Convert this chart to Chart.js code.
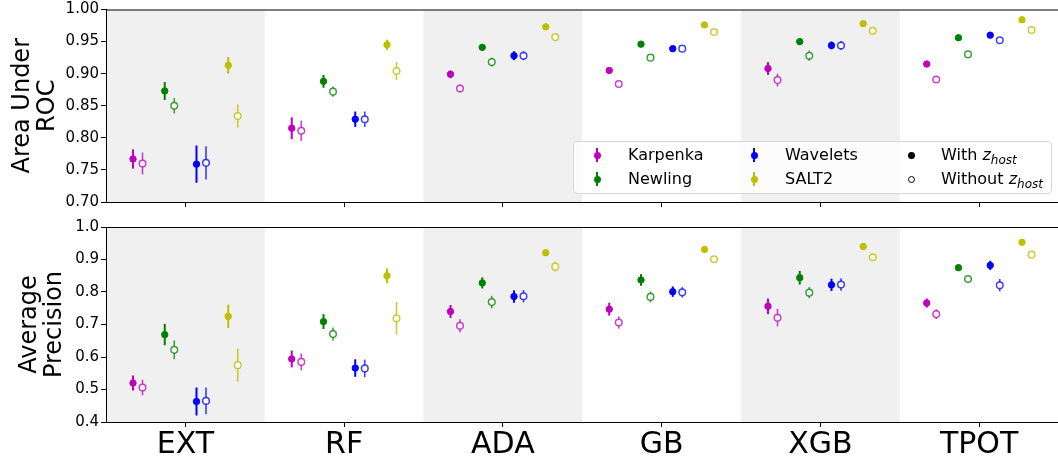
<!DOCTYPE html>
<html><head><meta charset="utf-8">
<script src="https://cdn.jsdelivr.net/npm/chart.js@4.4.1/dist/chart.umd.min.js"></script>
<style>
html,body{margin:0;padding:0;width:1058px;height:461px;overflow:hidden;background:#fff;font-family:"DejaVu Sans",sans-serif;}
#wrap{position:relative;width:1058px;height:461px;overflow:hidden;}
canvas{position:absolute;left:0;}
#c1{top:0}
#c2{top:215px}
#legend{position:absolute;left:573px;top:141px;width:477px;height:51px;border:1px solid #d6d6d6;border-radius:4px;background:rgba(255,255,255,0.8);}
.lt{position:absolute;font-size:16px;line-height:20px;color:#000;white-space:nowrap;}
.lbar{position:absolute;width:2px;height:14px;}
.ldot{position:absolute;width:7px;height:7px;border-radius:50%;box-sizing:border-box;}
</style>
</head><body>
<div id="wrap">
<canvas id="c1" width="1064" height="215"></canvas>
<canvas id="c2" width="1064" height="246"></canvas>
<div id="legend"></div>
</div>
<script>
// ---------- data ----------
const categories = ['EXT','RF','ADA','GB','XGB','TPOT'];
const methods = ['Karpenka','Newling','Wavelets','SALT2'];
const aucTicks = [0.70,0.75,0.80,0.85,0.90,0.95,1.00];
const apTicks = [0.4,0.5,0.6,0.7,0.8,0.9,1.0];

// Area under ROC
const aucKarpenka      = [0.767,0.815,0.899,0.905,0.908,0.915];
const aucKarpenkaErr   = [0.015,0.017,0.006,0.004,0.010,0.004];
const aucKarpenkaNoZ   = [0.760,0.811,0.877,0.884,0.890,0.891];
const aucKarpenkaNoZErr= [0.017,0.016,0.006,0.004,0.010,0.003];
const aucNewling       = [0.873,0.888,0.941,0.946,0.950,0.956];
const aucNewlingErr    = [0.014,0.010,0.003,0.003,0.004,0.003];
const aucNewlingNoZ    = [0.850,0.872,0.918,0.925,0.928,0.930];
const aucNewlingNoZErr = [0.012,0.008,0.007,0.003,0.008,0.003];
const aucWavelets      = [0.759,0.829,0.928,0.939,0.944,0.960];
const aucWaveletsErr   = [0.029,0.012,0.007,0.003,0.006,0.003];
const aucWaveletsNoZ   = [0.761,0.829,0.928,0.939,0.944,0.952];
const aucWaveletsNoZErr= [0.026,0.012,0.007,0.003,0.007,0.003];
const aucSALT2         = [0.913,0.945,0.973,0.976,0.978,0.984];
const aucSALT2Err      = [0.013,0.008,0.003,0.003,0.003,0.003];
const aucSALT2NoZ      = [0.834,0.904,0.957,0.965,0.967,0.968];
const aucSALT2NoZErr   = [0.018,0.014,0.003,0.003,0.003,0.003];

// Average precision
const apKarpenka       = [0.520,0.594,0.740,0.747,0.756,0.766];
const apKarpenkaErr    = [0.023,0.026,0.020,0.020,0.024,0.014];
const apKarpenkaNoZ    = [0.506,0.585,0.696,0.706,0.721,0.732];
const apKarpenkaNoZErr = [0.024,0.026,0.020,0.019,0.027,0.015];
const apNewling        = [0.669,0.709,0.828,0.837,0.844,0.875];
const apNewlingErr     = [0.033,0.023,0.017,0.018,0.021,0.008];
const apNewlingNoZ     = [0.622,0.671,0.769,0.785,0.798,0.840];
const apNewlingNoZErr  = [0.029,0.020,0.019,0.017,0.017,0.010];
const apWavelets       = [0.463,0.566,0.786,0.801,0.822,0.882];
const apWaveletsErr    = [0.043,0.027,0.019,0.016,0.019,0.014];
const apWaveletsNoZ    = [0.465,0.565,0.787,0.799,0.823,0.821];
const apWaveletsNoZErr = [0.041,0.027,0.019,0.016,0.019,0.019];
const apSALT2          = [0.725,0.850,0.921,0.931,0.940,0.953];
const apSALT2Err       = [0.036,0.023,0.008,0.005,0.005,0.004];
const apSALT2NoZ       = [0.575,0.719,0.878,0.901,0.907,0.915];
const apSALT2NoZErr    = [0.051,0.050,0.015,0.005,0.005,0.004];

// ---------- styles ----------
const colors = ['#bf00bf','#008000','#0000ff','#bfbf00'];
const lightColors = ['rgba(191,0,191,0.75)','rgba(0,128,0,0.75)','rgba(0,0,255,0.75)','rgba(191,191,0,0.8)'];
const FONT = 'DejaVu Sans';

function buildDatasets(series){
  const ds = [];
  series.forEach((s, m) => {
    const center = -0.3 + 0.2*m;
    ds.push({
      label: methods[m] + ' with',
      data: s[0].map((v,i)=>({x:i+center-0.03, y:v})),
      errors: s[1], errWidth: 2,
      pointRadius: 3.2, pointBorderWidth: 1,
      pointBackgroundColor: colors[m], pointBorderColor: colors[m], borderColor: colors[m],
      showLine:false
    });
    ds.push({
      label: methods[m] + ' without',
      data: s[2].map((v,i)=>({x:i+center+0.03, y:v})),
      errors: s[3], errWidth: 1.6,
      pointRadius: 3.3, pointBorderWidth: 1.5,
      pointBackgroundColor: '#ffffff', pointBorderColor: lightColors[m], borderColor: lightColors[m],
      showLine:false
    });
  });
  return ds;
}

const bandsPlugin = {
  id:'bands',
  beforeDraw(chart){
    const {ctx, chartArea:a, scales:{x}} = chart;
    ctx.save();
    ctx.fillStyle = '#f0f0f0';
    categories.forEach((c,i)=>{
      if(i%2===0){
        const l = x.getPixelForValue(i-0.5), r = x.getPixelForValue(i+0.5);
        ctx.fillRect(l, a.top, r-l, a.bottom-a.top);
      }
    });
    ctx.restore();
  },
  beforeDatasetsDraw(chart){
    const {ctx, scales:{x,y}} = chart;
    ctx.save();
    chart.data.datasets.forEach(ds=>{
      ctx.strokeStyle = ds.borderColor;
      ctx.lineWidth = ds.errWidth;
      ds.data.forEach((p,i)=>{
        const e = ds.errors[i];
        const px = x.getPixelForValue(p.x);
        ctx.beginPath();
        ctx.moveTo(px, y.getPixelForValue(p.y-e));
        ctx.lineTo(px, y.getPixelForValue(p.y+e));
        ctx.stroke();
      });
    });
    ctx.restore();
  },
  afterDraw(chart){
    const {ctx, chartArea:a} = chart;
    ctx.save();
    ctx.strokeStyle = '#000';
    ctx.lineWidth = 1;
    ctx.beginPath();
    ctx.moveTo(a.left, a.top+0.5);
    ctx.lineTo(a.right, a.top+0.5);
    ctx.stroke();
    ctx.restore();
  }
};

function makeChart(id, datasets, ticks, decimals, title, titlePad, showX, padTop, xHeight){
  return new Chart(document.getElementById(id), {
    type:'scatter',
    data:{datasets},
    options:{
      responsive:false, animation:false, devicePixelRatio:1,
      layout:{padding:{top:padTop,left:0,right:0,bottom:0}},
      plugins:{legend:{display:false}, tooltip:{enabled:false}},
      scales:{
        x:{
          type:'linear', min:-0.5, max:5.5,
          afterBuildTicks:(s)=>{ s.ticks = categories.map((c,i)=>({value:i})); },
          afterFit:(s)=>{ s.height = xHeight; },
          grid:{display:true, drawOnChartArea:false, drawTicks:true, tickLength:5, tickWidth:1, tickColor:'#000'},
          border:{display:true, color:'#000', width:1},
          ticks:{callback:(v)=> showX ? categories[v] : '', font:{family:FONT, size:30, lineHeight:1}, color:'#000', padding:3, maxRotation:0, autoSkip:false}
        },
        y:{
          min:ticks[0], max:ticks[ticks.length-1],
          afterBuildTicks:(s)=>{ s.ticks = ticks.map(v=>({value:v})); },
          afterFit:(s)=>{ s.width = 106; },
          grid:{display:true, drawOnChartArea:false, drawTicks:true, tickLength:5, tickWidth:1, tickColor:'#000'},
          border:{display:true, color:'#000', width:1},
          ticks:{callback:(v)=>Number(v).toFixed(decimals), font:{family:FONT, size:15, lineHeight:1}, color:'#000', padding:2},
          title:{display:true, text:title, font:{family:FONT, size:24, lineHeight:1.02}, color:'#000', padding:{top:titlePad, bottom:0}}
        }
      }
    },
    plugins:[bandsPlugin]
  });
}

const aucSeries = [
  [aucKarpenka, aucKarpenkaErr, aucKarpenkaNoZ, aucKarpenkaNoZErr],
  [aucNewling, aucNewlingErr, aucNewlingNoZ, aucNewlingNoZErr],
  [aucWavelets, aucWaveletsErr, aucWaveletsNoZ, aucWaveletsNoZErr],
  [aucSALT2, aucSALT2Err, aucSALT2NoZ, aucSALT2NoZErr]
];
const apSeries = [
  [apKarpenka, apKarpenkaErr, apKarpenkaNoZ, apKarpenkaNoZErr],
  [apNewling, apNewlingErr, apNewlingNoZ, apNewlingNoZErr],
  [apWavelets, apWaveletsErr, apWaveletsNoZ, apWaveletsNoZErr],
  [apSALT2, apSALT2Err, apSALT2NoZ, apSALT2NoZErr]
];

makeChart('c1', buildDatasets(aucSeries), aucTicks, 2, ['Area Under','ROC'], 11, false, 8, 13);
makeChart('c2', buildDatasets(apSeries), apTicks, 1, ['Average','Precision'], 18, true, 12, 39);

// ---------- legend ----------
const legend = document.getElementById('legend');
const colMarkerX = [23, 180, 337];
const colTextX = [54, 211, 367];
const rowY = [13, 37];
function add(html){ legend.insertAdjacentHTML('beforeend', html); }
methods.forEach((m,i)=>{
  const col = Math.floor(i/2), row = i%2;
  const cx = colMarkerX[col], cy = rowY[row];
  add(`<div class="lbar" style="left:${cx-1}px;top:${cy-7}px;background:${colors[i]}"></div>`);
  add(`<div class="ldot" style="left:${cx-3.5}px;top:${cy-3.5}px;background:${colors[i]}"></div>`);
  add(`<div class="lt" style="left:${colTextX[col]}px;top:${cy-10}px">${m}</div>`);
});
const zLabels = ['With', 'Without'];
zLabels.forEach((t,row)=>{
  const cx = colMarkerX[2], cy = rowY[row];
  const fill = row===0 ? 'background:#000;' : 'background:#fff;border:1px solid #000;';
  add(`<div class="ldot" style="left:${cx-3.5}px;top:${cy-3.5}px;${fill}"></div>`);
  add(`<div class="lt" style="left:${colTextX[2]}px;top:${cy-10}px">${t} <span style="font-style:italic">z</span><span style="font-style:italic;font-size:12px;position:relative;top:4px">host</span></div>`);
});
</script>
</body></html>
